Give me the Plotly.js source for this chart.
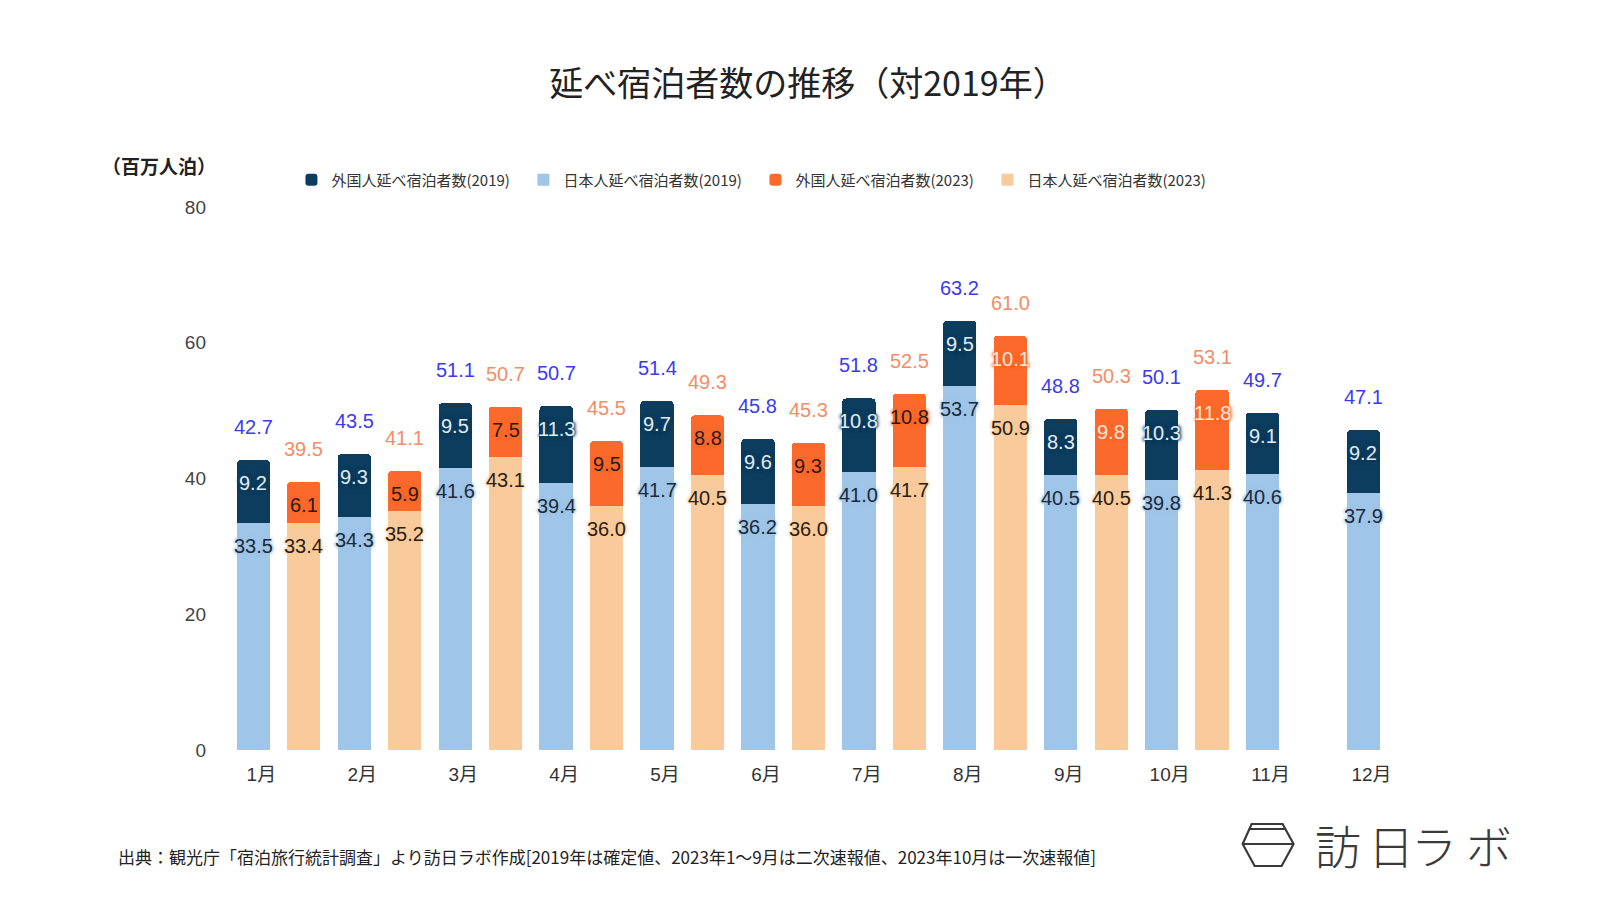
<!DOCTYPE html>
<html>
<head>
<meta charset="utf-8">
<script src="https://cdn.plot.ly/plotly-3.0.1.min.js"></script>
<style>html,body{margin:0;padding:0;background:#fff;}#chart{width:1600px;height:900px;}</style>
</head>
<body>
<div id="chart"></div>
<script>
// ---- data ----
const months = ['1月','2月','3月','4月','5月','6月','7月','8月','9月','10月','11月','12月'];
const jp2019 = [33.5,34.3,41.6,39.4,41.7,36.2,41.0,53.7,40.5,39.8,40.6,37.9];
const fr2019 = [9.2,9.3,9.5,11.3,9.7,9.6,10.8,9.5,8.3,10.3,9.1,9.2];
const total2019 = [42.7,43.5,51.1,50.7,51.4,45.8,51.8,63.2,48.8,50.1,49.7,47.1];
const jp2023 = [33.4,35.2,43.1,36.0,40.5,36.0,41.7,50.9,40.5,41.3,null,null];
const fr2023 = [6.1,5.9,7.5,9.5,8.8,9.3,10.8,10.1,9.8,11.8,null,null];
const total2023 = [39.5,41.1,50.7,45.5,49.3,45.3,52.5,61.0,50.3,53.1,null,null];
const seriesNames = ['外国人延べ宿泊者数(2019)','日本人延べ宿泊者数(2019)','外国人延べ宿泊者数(2023)','日本人延べ宿泊者数(2023)'];
const yTicks = [0,20,40,60,80];

// ---- layout geometry (pixels) ----
const L = 210.5, W = 1212, T = 207, H = 543;
const px = x => (x - L) / W;
const py = y => (750 - y) / H;

const C = {fr19:'#0c3d5e', jp19:'#9fc5e8', fr23:'#fb6a2c', jp23:'#f9cb9c'};
const FONT = 'Liberation Sans, Arial, Noto Sans CJK JP, sans-serif';
const JFONT = 'Noto Sans CJK JP, sans-serif';

const traces = [
  {type:'bar', name:seriesNames[1], x:months, y:jp2019, xaxis:'x', yaxis:'y', width:0.33,
   marker:{color:C.jp19}, legendrank:2, hoverinfo:'skip'},
  {type:'bar', name:seriesNames[0], x:months, y:fr2019, xaxis:'x', yaxis:'y', width:0.33,
   marker:{color:C.fr19, cornerradius:4}, legendrank:1, hoverinfo:'skip'},
  {type:'bar', name:seriesNames[3], x:months, y:jp2023, xaxis:'x2', yaxis:'y', width:0.33,
   marker:{color:C.jp23}, legendrank:4, hoverinfo:'skip'},
  {type:'bar', name:seriesNames[2], x:months, y:fr2023, xaxis:'x2', yaxis:'y', width:0.33,
   marker:{color:C.fr23, cornerradius:4}, legendrank:3, hoverinfo:'skip'}
];

const halo = c => `0 0 2px ${c}, 0 0 3px ${c}, 0 0 4px ${c}, 0 0 4px ${c}`;
const ann = [];
function addLabels(vals, tops, xref, color, haloColor, shift, size, colorFn) {
  vals.forEach((v, i) => {
    if (v === null || v === undefined) return;
    ann.push({x: months[i], y: tops[i], xref: xref, yref: 'y', text: v.toFixed(1),
      showarrow: false, yshift: shift, xanchor: 'center', yanchor: 'middle',
      font: {family: FONT, size: size, color: colorFn ? colorFn(i) : color,
             shadow: haloColor ? halo(haloColor) : 'none'}});
  });
}
const top2019 = jp2019.map((v, i) => v + fr2019[i]);
const top2023 = jp2023.map((v, i) => v === null ? null : v + fr2023[i]);
addLabels(jp2019, jp2019, 'x', '#1c2a38', C.jp19, -23, 20);
addLabels(fr2019, top2019, 'x', '#e4ebf2', C.fr19, -23, 20);
addLabels(jp2023, jp2023, 'x2', '#2a1d12', C.jp23, -23, 20);
addLabels(fr2023, top2023, 'x2', '#2a1a10', C.fr23, -23, 20, i => i >= 7 ? '#fde6d8' : '#2a1a10');
addLabels(total2019, top2019, 'x', '#3b3bef', null, 33, 20);
addLabels(total2023, top2023, 'x2', '#f48c68', null, 33, 20);

// unit label
ann.push({x: px(158), y: py(165), xref:'paper', yref:'paper', text:'（百万人泊）', showarrow:false,
  xanchor:'center', yanchor:'middle', font:{family:JFONT, size:19, color:'#222', weight:'bold'}});
// source footer
ann.push({x: px(115), y: py(856), xref:'paper', yref:'paper',
  text:'出典：観光庁「宿泊旅行統計調査」より訪日ラボ作成[2019年は確定値、2023年1～9月は二次速報値、2023年10月は一次速報値]',
  showarrow:false, xanchor:'left', yanchor:'middle', font:{family:JFONT, size:17, color:'#222'}});
// logo text
const logoChars = ['訪','日','ラ','ボ'];
const logoX = [1338, 1391, 1435, 1490];
logoChars.forEach((ch, i) => ann.push({x: px(logoX[i]), y: py(844), xref:'paper', yref:'paper', text: ch,
  showarrow:false, xanchor:'center', yanchor:'middle', font:{family:JFONT, size:46, color:'#3a3a3a', weight:200}}));

const P = (x, y) => `${px(x)},${py(y)}`;
const shapes = [
  {type:'path', xref:'paper', yref:'paper', line:{color:'#3a3a3a', width:2.2},
   path:`M${P(1252,824)}L${P(1283,824)}L${P(1294,844)}L${P(1282,866)}L${P(1255,866)}L${P(1243,844)}Z`},
  {type:'line', xref:'paper', yref:'paper', line:{color:'#3a3a3a', width:2.2},
   x0:px(1249), y0:py(829), x1:px(1286), y1:py(829)},
  {type:'line', xref:'paper', yref:'paper', line:{color:'#3a3a3a', width:2.2},
   x0:px(1243), y0:py(844), x1:px(1294), y1:py(844)}
];

const layout = {
  width:1600, height:900,
  paper_bgcolor:'#ffffff', plot_bgcolor:'#ffffff',
  margin:{l:L, r:1600 - L - W, t:T, b:900 - T - H, pad:0},
  barmode:'stack',
  showlegend:true,
  title:{text:'延べ宿泊者数の推移（対2019年）', x:0.505, xref:'container', xanchor:'center',
         y:1 - 84/900, yref:'container', yanchor:'middle',
         font:{family:JFONT, size:34, color:'#222'}},
  legend:{orientation:'h', x:px(291), xanchor:'left', y:py(180), yanchor:'middle',
          traceorder:'normal', entrywidth:187, entrywidthmode:'pixels',
          font:{family:JFONT, size:15, color:'#333'}, bgcolor:'rgba(0,0,0,0)'},
  xaxis:{type:'category', categoryorder:'array', categoryarray:months, range:[-0.42, 11.58],
         showgrid:false, zeroline:false, showline:false, ticks:'', fixedrange:true,
         ticklabelshift:8, ticklabelstandoff:11,
         tickfont:{family:FONT, size:19, color:'#333'}},
  xaxis2:{type:'category', overlaying:'x', anchor:'y', categoryorder:'array', categoryarray:months,
          range:[-0.92, 11.08], visible:false, fixedrange:true},
  yaxis:{range:[0, 80], tickvals:yTicks, showgrid:false, zeroline:false, showline:false, ticks:'',
         fixedrange:true, ticklabelstandoff:4, tickfont:{family:FONT, size:19, color:'#444'}},
  annotations: ann,
  shapes: shapes
};

Plotly.newPlot('chart', traces, layout, {displayModeBar:false, staticPlot:true});
</script>
</body>
</html>
